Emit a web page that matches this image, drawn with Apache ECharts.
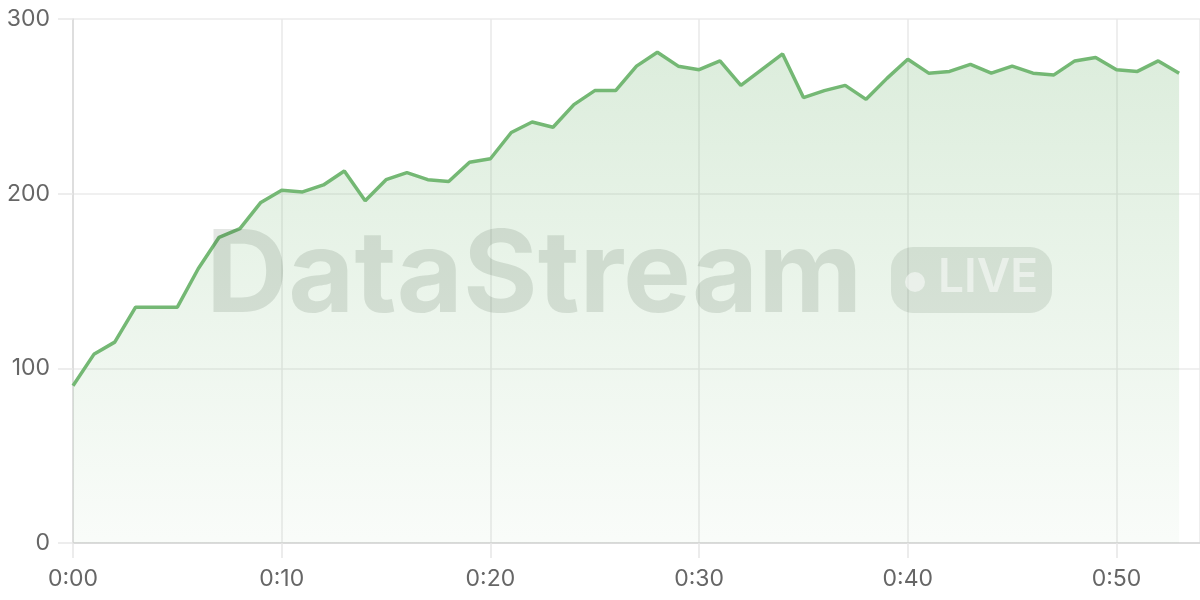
<!DOCTYPE html>
<html>
<head>
<meta charset="utf-8">
<script src="https://cdn.jsdelivr.net/npm/echarts@6/dist/echarts.min.js"></script>
<style>
html,body{margin:0;padding:0;background:#fff;}
#chart{width:1200px;height:600px;}
</style>
</head>
<body>
<div id="chart"></div>
<script>
// minutes elapsed (x) and stream value (y)
const minutes = [0,1,2,3,4,5,6,7,8,9,10,11,12,13,14,15,16,17,18,19,20,21,22,23,24,25,26,27,28,29,30,31,32,33,34,35,36,37,38,39,40,41,42,43,44,45,46,47,48,49,50,51,52,53];
const values = [90,108,115,135,135,135,157,175,180,195,202,201,205,213,196,208,212,208,207,218,220,235,241,238,251,259,259,273,281,273,271,276,262,271,280,255,259,262,254,266,277,269,270,274,269,273,269,268,276,278,271,270,276,269];
const xTickLabels = ['0:00','0:10','0:20','0:30','0:40','0:50'];
const yTickValues = [0,100,200,300];
const watermarkText = 'DataStream';
const badgeText = 'LIVE';

const chart = echarts.init(document.getElementById('chart'), null, {renderer:'canvas'});
const FONT = 'Inter, "Noto Sans", sans-serif';
const option = {
  animation:false,
  backgroundColor:'#ffffff',
  grid:{left:73,right:0,top:19,bottom:57,containLabel:false},
  xAxis:{
    type:'value',min:0,max:54,interval:10,
    axisLine:{show:true,lineStyle:{color:'#d4d4d4',width:1.5}},
    axisTick:{show:true,length:15,lineStyle:{color:'#e6e6e6',width:1.5}},
    splitLine:{show:true,lineStyle:{color:'#e8e8e8',width:1.5}},
    axisLabel:{color:'#666',fontSize:23,fontFamily:FONT,margin:25,
      formatter:function(v){return xTickLabels[Math.round(v/10)] || '';},
      showMaxLabel:false}
  },
  yAxis:{
    type:'value',min:0,max:300,interval:100,
    axisLine:{show:true,lineStyle:{color:'#d9d9d9',width:1.5}},
    axisTick:{show:true,length:15,lineStyle:{color:'#e8e8e8',width:1.5}},
    splitLine:{show:true,lineStyle:{color:'#ebebeb',width:1.5}},
    axisLabel:{color:'#666',fontSize:23,fontFamily:FONT,margin:23,
      formatter:function(v){return yTickValues.indexOf(v)>=0?String(v):'';}}
  },
  graphic:[
    {type:'text',left:206,top:221,z:100,silent:true,
     style:{text:watermarkText,font:'bold 114px '+FONT,fill:'rgba(40,60,40,0.13)'}},
    {type:'rect',z:100,silent:true,shape:{x:891,y:247,width:161,height:66,r:22},
     style:{fill:'rgba(40,60,40,0.11)'}},
    {type:'circle',z:101,silent:true,shape:{cx:915,cy:282,r:10},
     style:{fill:'rgba(255,255,255,0.5)'}},
    {type:'text',z:101,silent:true,left:938,top:255,
     style:{text:badgeText,font:'600 46px '+FONT,fill:'rgba(255,255,255,0.5)'}}
  ],
  series:[{
    type:'line',
    data:minutes.map((m,i)=>[m,values[i]]),
    showSymbol:false,
    lineStyle:{color:'#74b874',width:3.5},
    itemStyle:{color:'#74b874'},
    areaStyle:{color:new echarts.graphic.LinearGradient(0,0,0,1,[
      {offset:0,color:'rgba(118,184,118,0.36)'},
      {offset:1,color:'rgba(118,184,118,0.06)'}])}
  }]
};
chart.setOption(option);
</script>
</body>
</html>
